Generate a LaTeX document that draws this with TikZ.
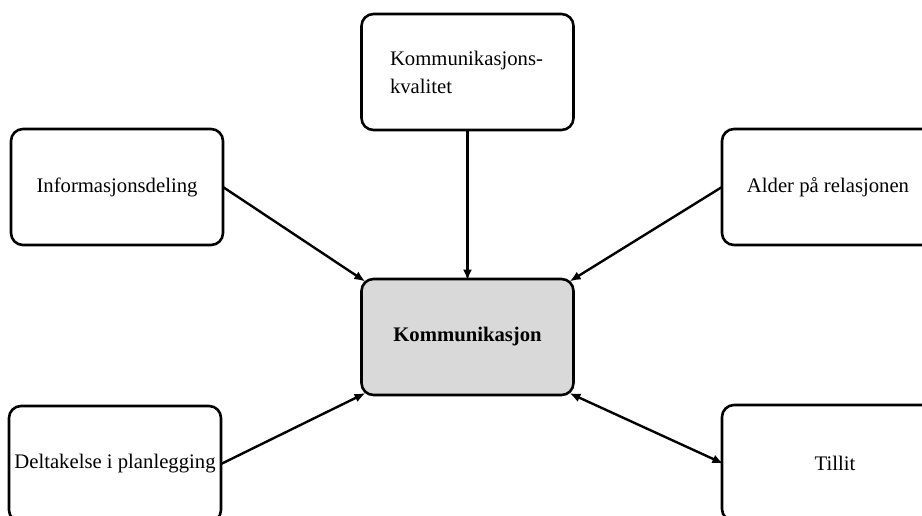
\documentclass[tikz,border=0pt]{standalone}
\usepackage{fontspec}
\setmainfont{Liberation Serif}
\usetikzlibrary{arrows.meta}
\begin{document}
\begin{tikzpicture}[x=1pt,y=-1pt,
  box/.style={draw=black, line width=2.6pt, rounded corners=12pt,
    minimum width=212pt, minimum height=116pt, inner sep=0pt, outer sep=0pt,
    font=\fontsize{20.7}{28}\selectfont, align=center, fill=white},
  hub/.style={box, fill=gray!30, font=\fontsize{20.7}{28}\selectfont\bfseries},
  link/.style={line width=2.4pt, -{Latex[length=11pt,width=9pt]}},
  biglink/.style={line width=2.4pt, {Latex[length=11pt,width=9pt]}-{Latex[length=11pt,width=9pt]}}
]
\useasboundingbox (0,0) rectangle (922,515);
\clip (0,0) rectangle (922,515);
\fill[white] (0,0) rectangle (922,515);

% central concept
\node[hub] (komm) at (467.5,337) {Kommunikasjon};

% surrounding factors
\node[box] (kval) at (467.5,72)
  {\raisebox{-4pt}{\begin{minipage}{155pt}\raggedright Kommunikasjons-\\kvalitet\end{minipage}}};
\node[box] (info) at (117,187) {Informasjonsdeling};
\node[box] (alder) at (828,187) {Alder på relasjonen};
\node[box] (delt) at (115,464) {Deltakelse i planlegging};
\node[box, minimum width=226pt] (tillit) at (835,463) {Tillit};

% influences on communication
\draw[link, shorten >=-1.5pt] (kval.south) -- (komm.north);
\draw[link, shorten >=-4.5pt] (info.east) -- (komm.north west);
\draw[link, shorten >=-4.5pt] (alder.west) -- (komm.north east);
\draw[link, shorten >=-4.5pt] (delt.east) -- (komm.south west);
\draw[biglink, shorten <=-4.5pt, shorten >=-1.5pt] (komm.south east) -- (tillit.west);
\end{tikzpicture}
\end{document}
